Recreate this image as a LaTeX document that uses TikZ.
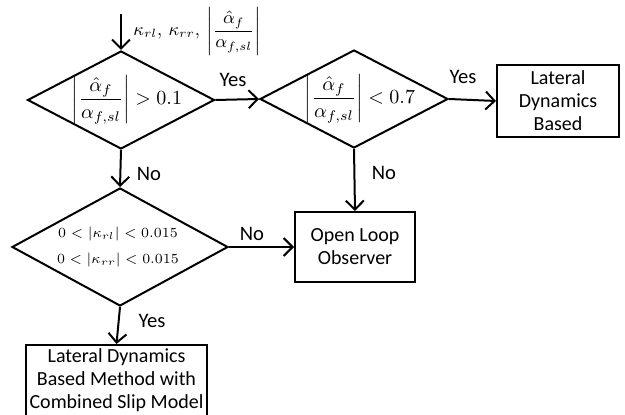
\documentclass[tikz,border=0pt]{standalone}
\usepackage{fontspec}
\setmainfont{Carlito}
\usetikzlibrary{shapes.geometric,arrows.meta}
\tikzset{
  decision/.style={draw,shape=diamond,line width=1pt,inner sep=0pt},
  process/.style={draw,rectangle,line width=1pt,align=center,inner sep=2pt,font=\fontsize{10}{11.5}\selectfont},
  flow/.style={line width=1pt,-{Straight Barb[length=4.5pt,width=9pt,line width=1pt]}},
  answer/.style={font=\fontsize{10.3}{11.5}\selectfont,inner sep=0pt}
}
\newcommand{\slipfrac}{\left|\displaystyle\frac{\hat{\alpha}_f}{\alpha_{f,sl}}\right|}
\begin{document}
\begin{tikzpicture}[x=0.5pt,y=-0.5pt]
\useasboundingbox (0,0) rectangle (625,415);
\coordinate (in) at (121,14);
\node [anchor=west,inner sep=0pt,font=\small] (inlabel) at (133,31) {$\kappa_{rl},\,\kappa_{rr},\,\biggl|\displaystyle\frac{\hat{\alpha}_f}{\alpha_{f,sl}}\biggr|$};
\node [decision,minimum width=93.5pt,minimum height=49pt,label={[xshift=3pt]center:$\slipfrac>0.1$}] (d1) at (121,100) {};
\node [decision,minimum width=94pt,minimum height=49pt,label={[xshift=3pt]center:$\slipfrac<0.7$}] (d2) at (354,99) {};
\node [decision,minimum width=108pt,minimum height=59pt,label={[align=center,font=\fontsize{7}{8.4}\selectfont,xshift=-1pt]center:$0<\left|\kappa_{rl}\right|<0.015$\\[5pt]$0<\left|\kappa_{rr}\right|<0.015$}] (d3) at (120,247) {};
\node [process,minimum width=61pt,minimum height=36pt] (lat) at (558,101) {Lateral\\Dynamics\\Based};
\node [process,minimum width=60pt,minimum height=35pt] (open) at (355,247) {Open Loop\\Observer};
\node [process,anchor=north,minimum width=90.5pt,minimum height=42pt,text depth=8pt] (comb) at (116.5,344) {Lateral Dynamics\\Based Method with\\Combined Slip Model};
\draw [flow] (in) -- (d1.north);
\draw [flow] (d1.east) -- (d2.west);
\draw [flow] (d2.east) -- (lat.west);
\draw [flow] (d1.south) -- (d3.north);
\draw [flow] (d2.south) -- (open.north);
\draw [flow] (d3.east) -- (open.west);
\draw [flow] (d3.south) -- (comb.north);
\node [answer] (y1) at (233,80) {Yes};
\node [answer] (y2) at (463,77) {Yes};
\node [answer] (y3) at (152,321) {Yes};
\node [answer] (n1) at (149,174) {No};
\node [answer] (n2) at (384,173) {No};
\node [answer] (n3) at (252,234) {No};
\end{tikzpicture}
\end{document}
